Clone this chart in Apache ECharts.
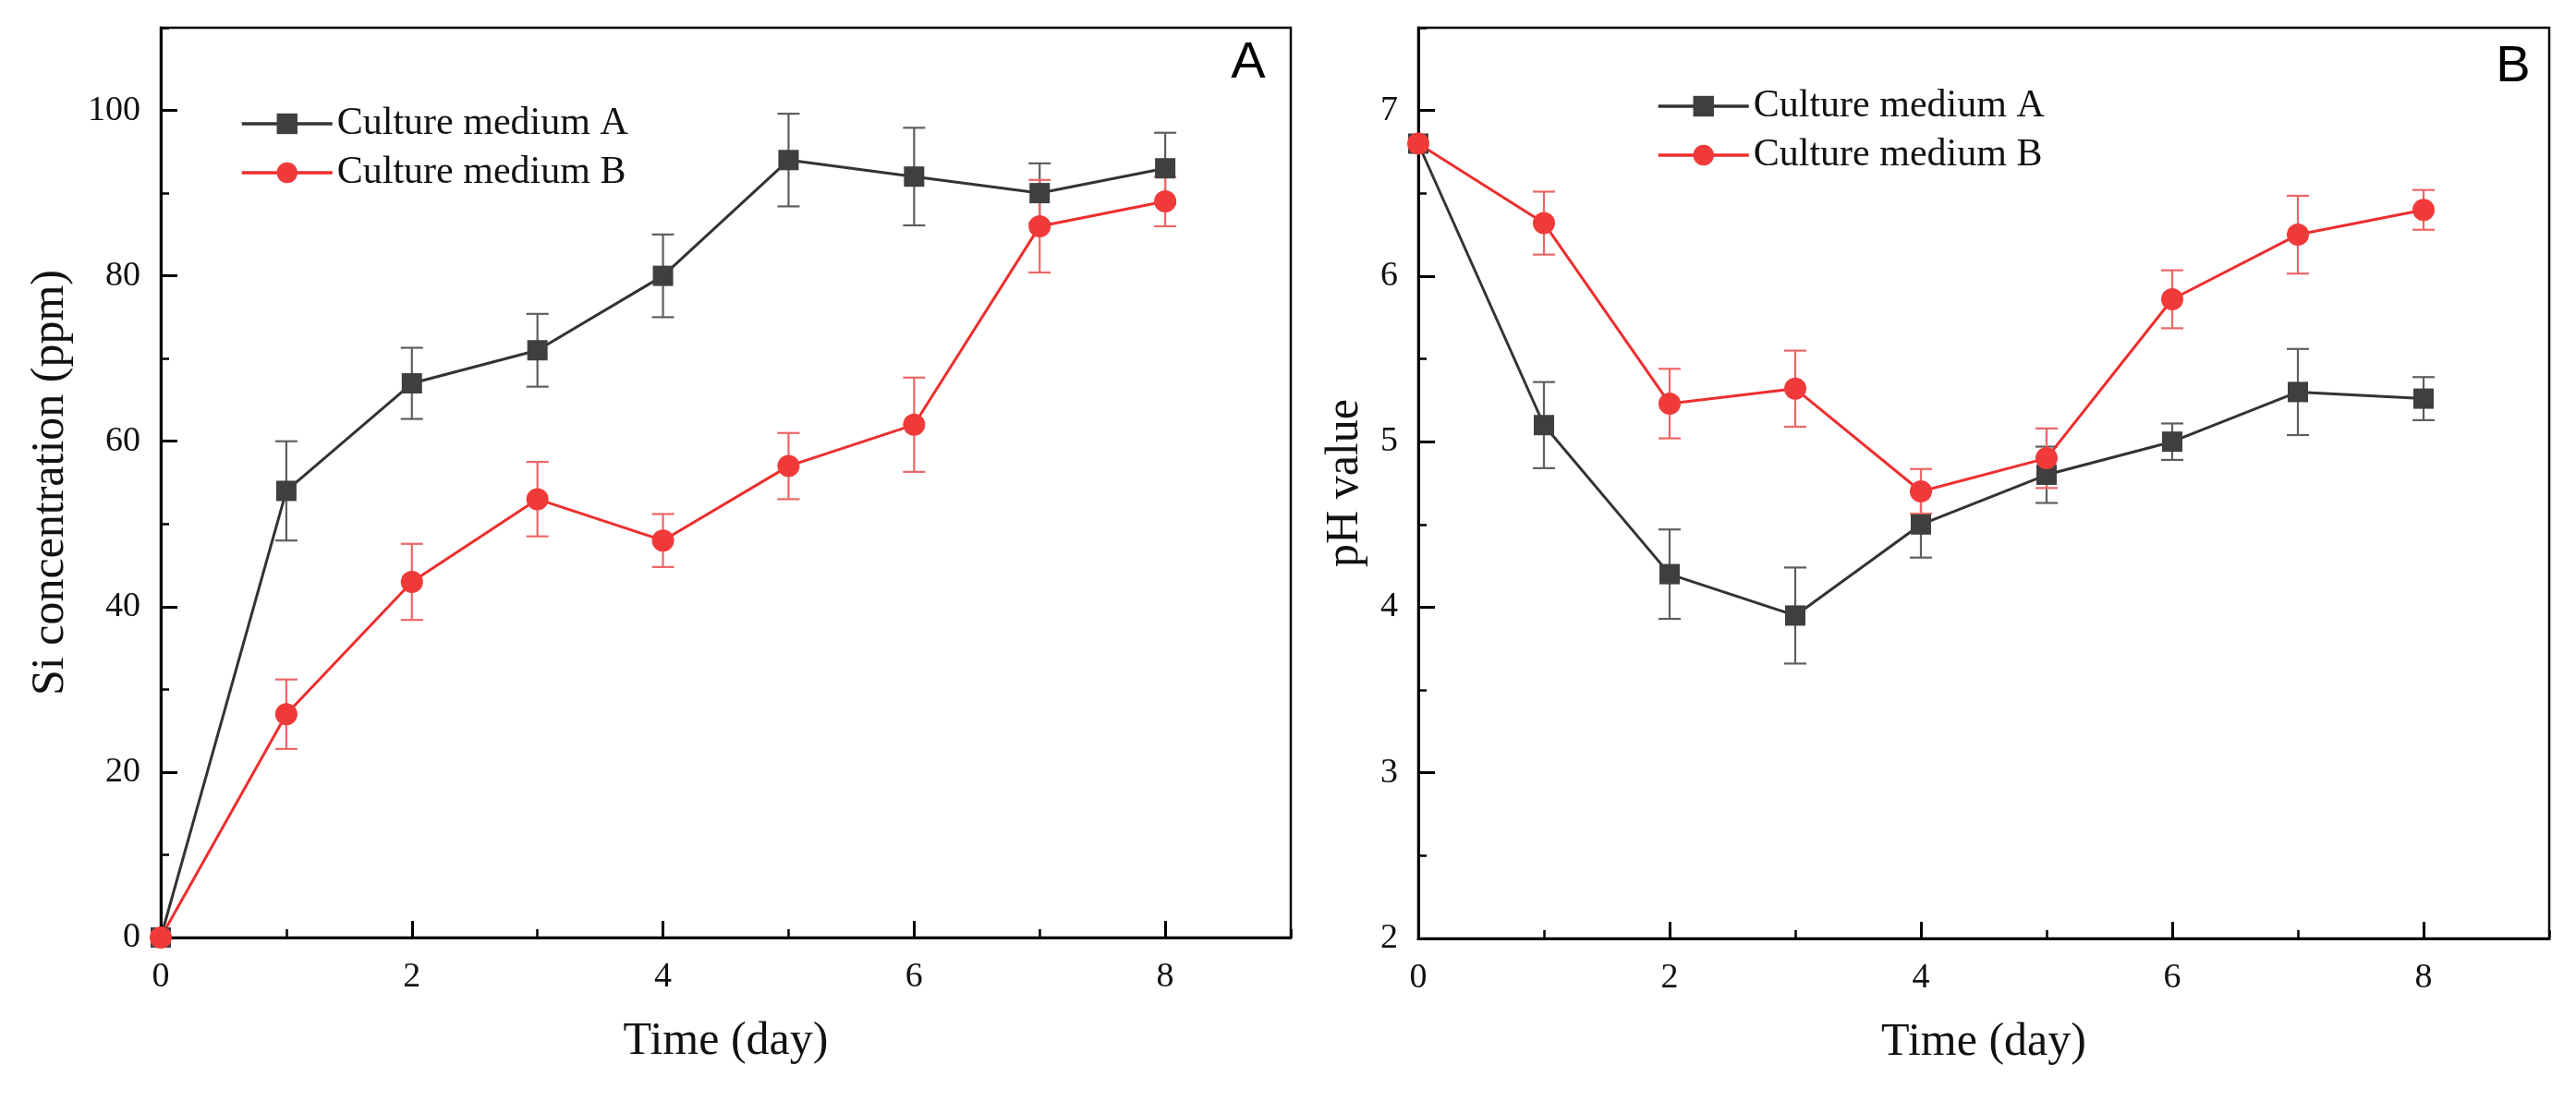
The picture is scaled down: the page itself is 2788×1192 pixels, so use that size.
<!DOCTYPE html>
<html>
<head>
<meta charset="utf-8">
<script src="https://cdn.jsdelivr.net/npm/echarts@6/dist/echarts.min.js"></script>
<style>
  html, body { margin: 0; padding: 0; background: #fff; }
  #main { width: 2788px; height: 1192px; }
</style>
</head>
<body>
<div id="main"></div>
<script>
// data
var days = [0, 1, 2, 3, 4, 5, 6, 7, 8];

// panel A: Si concentration (ppm)
var siA = [0, 54, 67, 71, 80, 94, 92, 90, 93];
var siAErr = [0, 6, 4.3, 4.4, 5, 5.6, 5.9, 3.6, 4.3];
var siB = [0, 27, 43, 53, 48, 57, 62, 86, 89];
var siBErr = [0, 4.2, 4.6, 4.5, 3.2, 4, 5.7, 5.6, 3];

// panel B: pH value
var phA = [6.8, 5.1, 4.2, 3.95, 4.5, 4.8, 5.0, 5.3, 5.26];
var phAErr = [0, 0.26, 0.27, 0.29, 0.2, 0.17, 0.11, 0.26, 0.13];
var phB = [6.8, 6.32, 5.23, 5.32, 4.7, 4.9, 5.86, 6.25, 6.4];
var phBErr = [0, 0.19, 0.21, 0.23, 0.135, 0.18, 0.175, 0.235, 0.12];

var nameA = 'Culture medium A';
var nameB = 'Culture medium B';

var SERIF = '"Liberation Serif", "Times New Roman", serif';
var darkLine = '#333333', darkMark = '#3f3f3f', darkErr = '#5e5e5e';
var redLine = '#ee2e2e', redMark = '#f03a3a', redErr = '#ec6666';

function pairs(ys) {
    return days.map(function (d, i) { return [d, ys[i]]; });
}
function errData(ys, errs) {
    var out = [];
    days.forEach(function (d, i) {
        if (errs[i] > 0) out.push([d, ys[i] - errs[i], ys[i] + errs[i]]);
    });
    return out;
}

function errorBar(color) {
    return function (params, api) {
        var x = api.value(0);
        var lo = api.coord([x, api.value(1)]);
        var hi = api.coord([x, api.value(2)]);
        var half = 12;
        var st = { stroke: color, lineWidth: 2.2 };
        return {
            type: 'group',
            children: [
                { type: 'line', shape: { x1: hi[0], y1: hi[1], x2: lo[0], y2: lo[1] }, style: st },
                { type: 'line', shape: { x1: hi[0] - half, y1: hi[1], x2: hi[0] + half, y2: hi[1] }, style: st },
                { type: 'line', shape: { x1: lo[0] - half, y1: lo[1], x2: lo[0] + half, y2: lo[1] }, style: st }
            ]
        };
    };
}

function mainX(grid, nameGap) {
    return {
        type: 'value', gridIndex: grid, min: 0, max: 9, interval: 2,
        name: 'Time (day)', nameLocation: 'middle', nameGap: nameGap,
        nameTextStyle: { fontFamily: SERIF, fontSize: 50, color: '#111' },
        axisLine: { show: true, onZero: false, lineStyle: { color: '#000', width: 3 } },
        axisTick: { show: true, inside: true, length: 18, lineStyle: { color: '#000', width: 3 } },
        axisLabel: { fontFamily: SERIF, fontSize: 38, color: '#111', margin: 24, showMaxLabel: false },
        splitLine: { show: false }
    };
}
function minorX(grid) {
    return {
        type: 'value', gridIndex: grid, min: 0, max: 9, interval: 1, position: 'bottom',
        axisLine: { show: false, onZero: false },
        axisTick: { show: true, inside: true, length: 9, lineStyle: { color: '#000', width: 2.5 } },
        axisLabel: { show: false }, splitLine: { show: false }
    };
}
function mainY(grid, min, max, interval, name, nameGap) {
    return {
        type: 'value', gridIndex: grid, min: min, max: max, interval: interval,
        name: name, nameLocation: 'middle', nameGap: nameGap,
        nameTextStyle: { fontFamily: SERIF, fontSize: 50, color: '#111' },
        axisLine: { show: true, onZero: false, lineStyle: { color: '#000', width: 3 } },
        axisTick: { show: true, inside: true, length: 18, lineStyle: { color: '#000', width: 3 } },
        axisLabel: { fontFamily: SERIF, fontSize: 38, color: '#111', margin: 22, showMaxLabel: false },
        splitLine: { show: false }
    };
}
function minorY(grid, min, max, interval) {
    return {
        type: 'value', gridIndex: grid, min: min, max: max, interval: interval, position: 'left',
        axisLine: { show: false, onZero: false },
        axisTick: { show: true, inside: true, length: 9, lineStyle: { color: '#000', width: 2.5 } },
        axisLabel: { show: false }, splitLine: { show: false }
    };
}

function lineSeries(name, xi, yi, data, symbol, size, lc, mc) {
    return {
        type: 'line', name: name, xAxisIndex: xi, yAxisIndex: yi, data: data,
        symbol: symbol, symbolSize: size, showAllSymbol: true,
        lineStyle: { color: lc, width: 3 },
        itemStyle: { color: mc, borderWidth: 0 },
        z: 3, animation: false
    };
}
function errSeries(id, xi, yi, data, color) {
    return {
        type: 'custom', name: id, xAxisIndex: xi, yAxisIndex: yi,
        renderItem: errorBar(color), data: data,
        encode: { x: 0, y: [1, 2] }, z: 2, silent: true, animation: false
    };
}

function legendAt(left, top) {
    return {
        orient: 'vertical', left: left, top: top, padding: 0,
        itemWidth: 98, itemHeight: 28, itemGap: 11,
        data: [nameA, nameB],
        lineStyle: { width: 3.5 },
        textStyle: { fontFamily: SERIF, fontSize: 42, color: '#111' }
    };
}

var chart = echarts.init(document.getElementById('main'), null, { renderer: 'canvas' });

chart.setOption({
    backgroundColor: '#fff',
    animation: false,
    grid: [
        { left: 174, top: 30, width: 1223, height: 985, show: true, borderColor: '#000', borderWidth: 2.5, backgroundColor: 'transparent' },
        { left: 1535, top: 30, width: 1224, height: 986, show: true, borderColor: '#000', borderWidth: 2.5, backgroundColor: 'transparent' }
    ],
    xAxis: [mainX(0, 88), minorX(0), mainX(1, 88), minorX(1)],
    yAxis: [
        mainY(0, 0, 110, 20, 'Si concentration (ppm)', 94),
        minorY(0, 0, 110, 10),
        mainY(1, 2, 7.5, 1, 'pH value', 54),
        minorY(1, 2, 7.5, 0.5)
    ],
    legend: [legendAt(260, 113), legendAt(1793, 94)],
    graphic: [
        { type: 'text', style: { text: 'A', x: 1351, y: 69, align: 'center', verticalAlign: 'middle', font: '56px "Liberation Sans", Arial, sans-serif', fill: '#000' } },
        { type: 'text', style: { text: 'B', x: 2720, y: 73, align: 'center', verticalAlign: 'middle', font: '56px "Liberation Sans", Arial, sans-serif', fill: '#000' } }
    ],
    series: [
        errSeries('errSiA', 0, 0, errData(siA, siAErr), darkErr),
        lineSeries(nameA, 0, 0, pairs(siA), 'rect', 22, darkLine, darkMark),
        errSeries('errSiB', 0, 0, errData(siB, siBErr), redErr),
        lineSeries(nameB, 0, 0, pairs(siB), 'circle', 24, redLine, redMark),

        errSeries('errPhA', 2, 2, errData(phA, phAErr), darkErr),
        lineSeries(nameA, 2, 2, pairs(phA), 'rect', 22, darkLine, darkMark),
        errSeries('errPhB', 2, 2, errData(phB, phBErr), redErr),
        lineSeries(nameB, 2, 2, pairs(phB), 'circle', 24, redLine, redMark)
    ]
});
</script>
</body>
</html>
